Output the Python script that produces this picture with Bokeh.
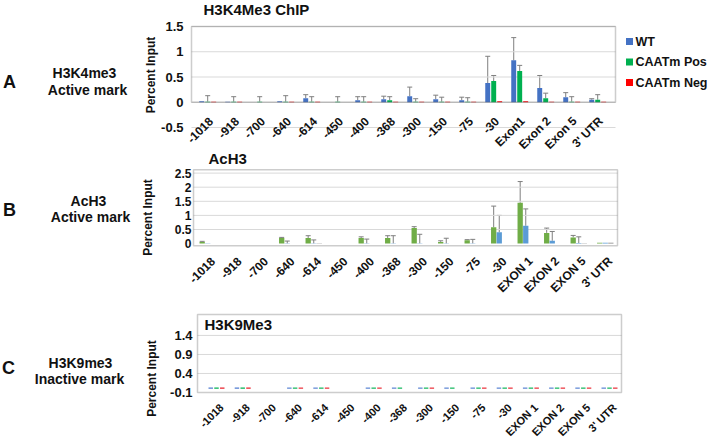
import math
from bokeh.plotting import figure
from bokeh.models import (ColumnDataSource, Whisker, TeeHead, BoxAnnotation, Range1d)
from bokeh.core.properties import value
from bokeh.embed import file_html
from bokeh.resources import INLINE

NaN = float("nan")
FONT = "Liberation Sans"

# ---------------- data ----------------
CATS_A = ["-1018", "-918", "-700", "-640", "-614", "-450", "-400", "-368",
          "-300", "-150", "-75", "-30", "Exon1", "Exon 2", "Exon 5", "3' UTR"]
CATS_BC = ["-1018", "-918", "-700", "-640", "-614", "-450", "-400", "-368",
           "-300", "-150", "-75", "-30", "EXON 1", "EXON 2", "EXON 5", "3' UTR"]

A_SERIES = ["WT", "CAATm Pos", "CAATm Neg"]
A_WT      = [0.02, 0.01, NaN, 0.02, 0.08, NaN, 0.04, 0.06, 0.12, 0.06, 0.04, 0.38, 0.83, 0.28, 0.10, 0.05]
A_WT_ERR  = [0, 0, 0, 0, 0.07, 0, 0.07, 0.06, 0.18, 0.08, 0.06, 0.53, 0.45, 0.25, 0.09, 0.02]
A_POS     = [0.01, 0.01, 0.01, 0.01, 0.01, 0.01, 0.01, 0.04, 0.01, 0.01, 0.01, 0.42, 0.62, 0.08, 0.01, 0.05]
A_POS_ERR = [0.12, 0.10, 0.10, 0.12, 0.10, 0.10, 0.10, 0.07, 0.06, 0.09, 0.08, 0.11, 0.11, 0.10, 0.10, 0.10]
A_NEG     = [0.01, 0.01, NaN, 0.01, 0.01, NaN, 0.01, 0.01, 0.01, 0.01, 0.01, 0.02, 0.02, 0.01, 0.01, 0.01]

B_GREEN     = [0.06, NaN, NaN, 0.20, 0.20, NaN, 0.20, 0.20, 0.55, 0.06, 0.12, 0.58, 1.45, 0.38, 0.22, 0.03]
B_GREEN_ERR = [0.02, 0, 0, 0.02, 0.08, 0, 0.04, 0.08, 0.05, 0.04, 0.02, 0.75, 0.75, 0.17, 0.07, 0]
B_BLUE      = [0.01, NaN, NaN, 0.01, 0.01, NaN, 0.01, 0.01, 0.01, 0.01, 0.01, 0.40, 0.63, 0.10, 0.02, 0.03]
B_BLUE_ERR  = [0, 0, 0, 0.08, 0.12, 0, 0.15, 0.27, 0.32, 0.18, 0.14, 0.60, 0.60, 0.33, 0.22, 0]
B_THIRD     = [NaN, NaN, NaN, NaN, 0.01, NaN, NaN, NaN, NaN, NaN, NaN, NaN, NaN, NaN, 0.01, 0.03]

C_BLUE  = [0.03, 0.03, NaN, 0.03, 0.03, NaN, 0.03, 0.03, 0.03, 0.03, 0.03, 0.03, 0.03, 0.03, 0.03, 0.03]
C_GREEN = [0.03, 0.03, NaN, 0.03, 0.03, NaN, 0.03, 0.03, 0.03, 0.03, 0.03, 0.03, 0.03, 0.03, 0.03, 0.03]
C_RED   = [0.03, 0.03, NaN, 0.03, 0.03, NaN, 0.03, NaN, 0.03, NaN, 0.03, 0.03, 0.03, 0.03, 0.03, 0.03]

A_YTICKS = [-0.5, 0, 0.5, 1, 1.5]
A_YLABELS = ["-0.5", "0", "0.5", "1", "1.5"]
B_YTICKS = [0, 0.5, 1, 1.5, 2, 2.5]
B_YLABELS = ["0", "0.5", "1", "1.5", "2", "2.5"]
C_YTICKS = [-0.1, 0.4, 0.9, 1.4]
C_YLABELS = ["-0.1", "0.4", "0.9", "1.4"]

ERR_COLOR = "#7f7f7f"
GRID_COLOR = "#d9d9d9"
BOX_COLOR = "#595959"
TXT = "#111111"
W, H = 708, 437

# one figure whose frame covers the whole canvas; each panel gets its own ranges
fig = figure(width=W, height=H, x_range=Range1d(0, 1), y_range=Range1d(0, 1),
             x_axis_location=None, y_axis_location=None,
             output_backend="svg", toolbar_location=None,
             min_border=0, min_border_left=0, min_border_right=0,
             min_border_top=0, min_border_bottom=0)
fig.outline_line_color = None
fig.grid.visible = False
fig.background_fill_color = "white"
fig.border_fill_color = "white"


class Panel:
    def __init__(self, name, c0, step, zero, pu):
        self.c0, self.step, self.zero, self.pu = c0, step, zero, pu
        xr = Range1d((0 - c0) / step, (W - c0) / step)
        yr = Range1d((zero - H) / pu, zero / pu)
        if name == "default":
            fig.x_range = xr
            fig.y_range = yr
        else:
            fig.extra_x_ranges[name] = xr
            fig.extra_y_ranges[name] = yr
        self.r = dict(x_range_name=name, y_range_name=name)

    def X(self, px):
        return (px - self.c0) / self.step

    def Y(self, py):
        return (self.zero - py) / self.pu

    def text(self, px, py, t, size, align="center", angle=0.0):
        fig.text(x=[self.X(px)], y=[self.Y(py)], text=[t], angle=angle,
                 text_font=value(FONT), text_font_style="bold", text_font_size=size,
                 text_align=align, text_baseline="middle", text_color=TXT, **self.r)

    def yaxis(self, ticks, labels, right_px, size):
        fig.text(x=[self.X(right_px)] * len(ticks), y=ticks, text=labels,
                 text_font=value(FONT), text_font_style="bold", text_font_size=size,
                 text_align="right", text_baseline="middle", text_color=TXT, **self.r)

    def grid(self, ticks, l_px, r_px):
        fig.segment(x0=[self.X(l_px)] * len(ticks), x1=[self.X(r_px)] * len(ticks),
                    y0=ticks, y1=ticks, line_color=GRID_COLOR, line_width=1, **self.r)

    def box(self, l_px, r_px, top, bottom):
        fig.add_layout(BoxAnnotation(left=self.X(l_px), right=self.X(r_px),
                                     bottom=bottom, top=top, fill_alpha=0,
                                     line_color=BOX_COLOR, line_width=1.5, **self.r))

    def cats(self, cats, dx_px, anchor_py, size):
        n = len(cats)
        fig.text(x=[i + dx_px / self.step for i in range(n)],
                 y=[self.Y(anchor_py)] * n, text=cats, angle=math.pi / 4,
                 text_font=value(FONT), text_font_style="bold", text_font_size=size,
                 text_align="right", text_baseline="middle", text_color=TXT, **self.r)

    def series(self, offset, vals, errs, color, width):
        xs, tops, wx, wl, wu = [], [], [], [], []
        for i, v in enumerate(vals):
            if v != v:
                continue
            xs.append(i + offset)
            tops.append(v)
            if errs is not None and errs[i] > 0:
                wx.append(i + offset)
                wl.append(v)
                wu.append(v + errs[i])
        src = ColumnDataSource(dict(x=xs, top=tops))
        fig.vbar(x="x", top="top", bottom=0, width=width, source=src,
                 fill_color=color, line_color=None, **self.r)
        if wx:
            wsrc = ColumnDataSource(dict(x=wx, lo=wl, up=wu))
            fig.add_layout(Whisker(base="x", lower="lo", upper="up", source=wsrc,
                                   dimension="height", line_color=ERR_COLOR, line_width=1,
                                   upper_head=TeeHead(size=5, line_color=ERR_COLOR,
                                                      line_width=1),
                                   lower_head=None, **self.r))


# ---------------- panel A ----------------
A = Panel("default", c0=207.2, step=26.0, zero=101.75, pu=50.5)
A.grid(A_YTICKS, 191, 615)
A.series(-0.23, A_WT, A_WT_ERR, "#4472C4", 0.19)
A.series(0.0, A_POS, A_POS_ERR, "#00B050", 0.19)
A.series(0.23, A_NEG, None, "#FF0000", 0.19)
A.box(191, 615, 1.5, 0)
A.yaxis(A_YTICKS, A_YLABELS, 183, "13px")
A.cats(CATS_A, 3, 118.5, "12px")
A.text(203, 9, "H3K4Me3 ChIP", "15px", align="left")
A.text(9, 81, "A", "18px")
A.text(84, 72, "H3K4me3", "14px")
A.text(87, 89, "Active mark", "14px")
A.text(150, 74.5, "Percent Input", "12px", angle=math.pi / 2)
for k, (name, col) in enumerate(zip(A_SERIES, ["#4472C4", "#00B050", "#FF0000"])):
    cy = 41 + 20.5 * k
    fig.scatter(x=[A.X(629)], y=[A.Y(cy)], marker="square", size=7,
                fill_color=col, line_color=None)
    A.text(635, cy, name, "12.5px", align="left")

# ---------------- panel B ----------------
B = Panel("B", c0=207.25, step=26.5, zero=243.1, pu=28.2)
B.grid(B_YTICKS[1:], 193, 617)
B.series(-0.21, B_GREEN, B_GREEN_ERR, "#70AD47", 0.2)
B.series(0.0, B_BLUE, B_BLUE_ERR, "#5B9BD5", 0.2)
B.series(0.21, B_THIRD, None, "#7f7f7f", 0.2)
B.box(193, 617, B.Y(169.3), B.Y(245.3))
B.yaxis(B_YTICKS, B_YLABELS, 191, "12px")
B.cats(CATS_BC, 5, 258.5, "12px")
B.text(208, 158, "AcH3", "15px", align="left")
B.text(9, 209, "B", "18px")
B.text(88, 200, "AcH3", "14px")
B.text(90, 216, "Active mark", "14px")
B.text(147, 217, "Percent Input", "12px", angle=math.pi / 2)

# ---------------- panel C ----------------
C = Panel("C", c0=216.0, step=26.2, zero=388.2, pu=38.05)
C.grid(C_YTICKS[1:], 197, 621)
C.series(-0.22, C_BLUE, None, "#4F7BD0", 0.17)
C.series(0.0, C_GREEN, None, "#00B050", 0.17)
C.series(0.22, C_RED, None, "#E8202A", 0.17)
C.box(197, 621, C.Y(314), C.Y(392))
C.yaxis(C_YTICKS, C_YLABELS, 192, "13px")
C.cats(CATS_BC, 5, 405, "11px")
C.text(204, 324, "H3K9Me3", "15px", align="left")
C.text(8, 367, "C", "18px")
C.text(80, 362, "H3K9me3", "14px")
C.text(79, 378, "Inactive mark", "14px")
C.text(151, 378, "Percent Input", "12px", angle=math.pi / 2)

open("out.html", "w").write(file_html(fig, INLINE))
